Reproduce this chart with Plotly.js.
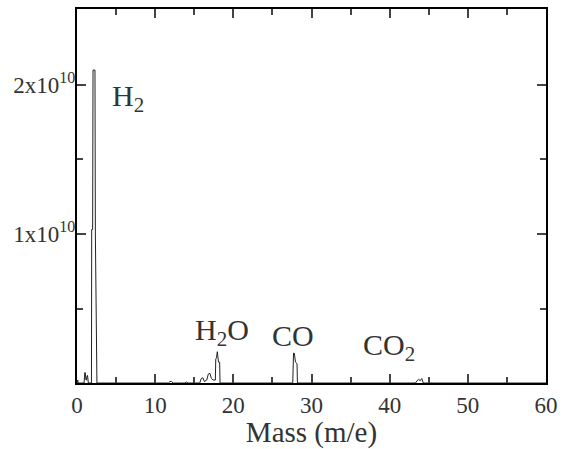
<!DOCTYPE html>
<html>
<head>
<meta charset="utf-8">
<script src="https://cdn.plot.ly/plotly-3.0.1.min.js"></script>
<style>html,body{margin:0;padding:0;background:#fff;}#chart{width:567px;height:449px;}</style>
</head>
<body>
<div id="chart"></div>
<script>
// Mass spectrum trace (mass in m/e, intensity)
const mass = [0, 0.05, 0.1, 0.15, 0.3, 0.9, 1.0, 1.05, 1.15, 1.2, 1.3, 1.35, 1.45, 1.6, 1.85, 1.88, 1.9, 2.0, 2.05, 2.3, 2.35, 2.5, 2.55, 3.0,
  11.7, 11.9, 12.1, 12.3, 13.8, 14.0, 14.2, 15.7, 15.9, 16.1, 16.3, 16.6, 16.8, 17.0, 17.2, 17.4, 17.7, 17.75, 17.85, 17.95, 18.05, 18.1, 18.25, 18.3, 18.5,
  27.4, 27.6, 27.7, 27.8, 27.95, 28.0, 28.15, 28.2, 28.5,
  43.3, 43.5, 43.7, 43.9, 44.0, 44.1, 44.3, 60];
const intensity = [0, 0.02e10, 0.02e10, 0, 0, 0, 0.07e10, 0.07e10, 0.02e10, 0.02e10, 0.05e10, 0.05e10, 0, 0, 0, 1.03e10, 1.03e10, 1.03e10, 2.1e10, 2.1e10, 1.0e10, 0.02e10, 0, 0,
  0, 0.01e10, 0.01e10, 0, 0, 0.007e10, 0, 0, 0.03e10, 0.035e10, 0.01e10, 0.02e10, 0.06e10, 0.065e10, 0.03e10, 0.02e10, 0.02e10, 0.16e10, 0.17e10, 0.21e10, 0.15e10, 0.14e10, 0.14e10, 0, 0,
  0, 0, 0.2e10, 0.2e10, 0.14e10, 0.137e10, 0.13e10, 0, 0,
  0, 0.015e10, 0.025e10, 0.015e10, 0.03e10, 0.03e10, 0, 0];

const xTickVals = [0, 10, 20, 30, 40, 50, 60];
const yTickVals = [1e10, 2e10];
const yTickText = ["1x10<sup>10</sup>", "2x10<sup>10</sup>"];

const labelText = ["H<sub>2</sub>", "H<sub>2</sub>O", "CO", "CO<sub>2</sub>"];
const labelX = [6.5, 18.5, 27.6, 39.9];
const labelY = [1.91e10, 0.34e10, 0.32e10, 0.24e10];

const font = "'Liberation Serif', 'Times New Roman', Times, serif";

const data = [{
  x: mass, y: intensity, type: 'scatter', mode: 'lines',
  line: {color: '#222', width: 1}, hoverinfo: 'skip'
}];

const annotations = labelText.map((t, i) => ({
  x: labelX[i], y: labelY[i], xref: 'x', yref: 'y', text: t, showarrow: false,
  font: {family: font, size: 30, color: '#333'}
}));

const layout = {
  width: 567, height: 449,
  margin: {l: 77, r: 21, t: 9, b: 66},
  paper_bgcolor: '#fff', plot_bgcolor: '#fff',
  showlegend: false,
  font: {family: font, color: '#333'},
  xaxis: {
    range: [0, 60], tickvals: xTickVals, ticks: 'inside', ticklen: 9, tickwidth: 2,
    showline: true, linewidth: 2, linecolor: '#000', mirror: 'ticks', showgrid: false, zeroline: false,
    tickfont: {family: font, size: 23, color: '#333'},
    minor: {dtick: 5, ticks: 'inside', ticklen: 6, tickwidth: 2, showgrid: false},
    title: {text: 'Mass (m/e)', font: {family: font, size: 29, color: '#333'}, standoff: 0}
  },
  yaxis: {
    range: [0, 2.51e10], tickvals: yTickVals, ticktext: yTickText, ticks: 'inside', ticklen: 9, tickwidth: 2,
    showline: true, linewidth: 2, linecolor: '#000', mirror: 'ticks', showgrid: false, zeroline: false,
    tickfont: {family: font, size: 23, color: '#333'}, ticklabelstandoff: -5,
    minor: {tickvals: [0.5e10, 1.5e10], ticks: 'inside', ticklen: 6, tickwidth: 2, showgrid: false}
  },
  annotations: annotations
};

Plotly.newPlot('chart', data, layout, {displayModeBar: false, staticPlot: true});
</script>
</body>
</html>
